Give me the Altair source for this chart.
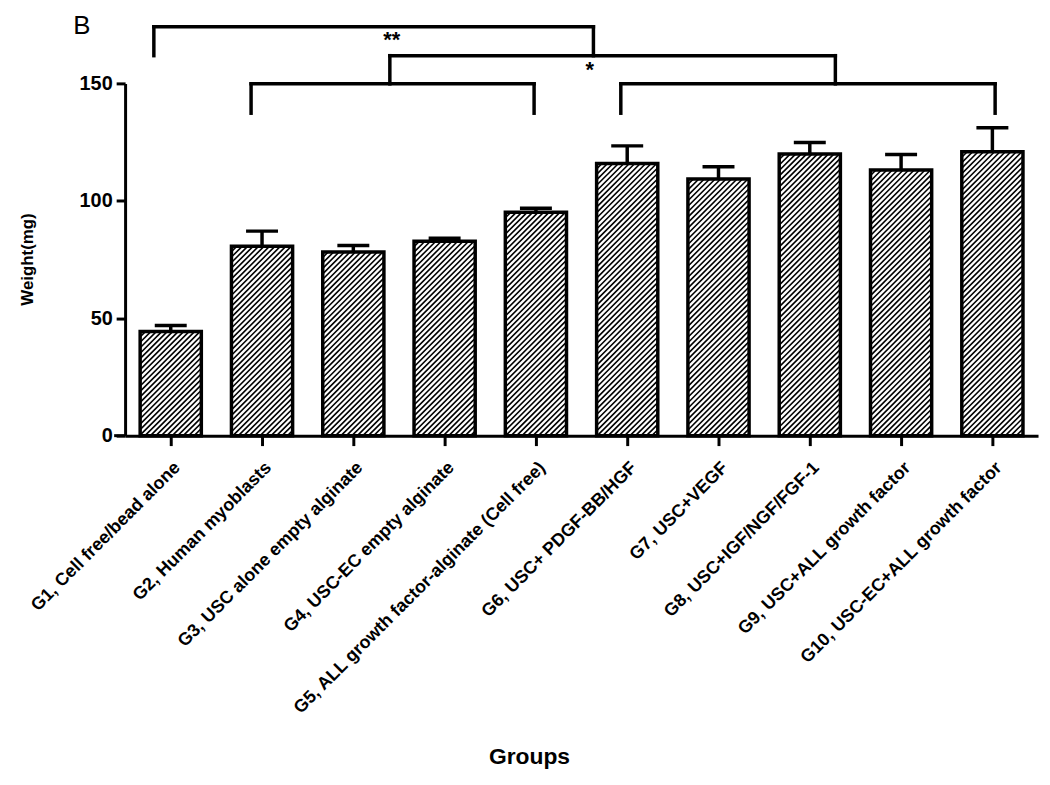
import json
import altair as alt
import pandas as pd

# ---------------- data ----------------
groups = [
    "G1, Cell free/bead alone",
    "G2, Human myoblasts",
    "G3, USC alone empty alginate",
    "G4, USC-EC empty alginate",
    "G5, ALL growth factor-alginate (Cell free)",
    "G6, USC+ PDGF-BB/HGF",
    "G7, USC+VEGF",
    "G8, USC+IGF/NGF/FGF-1",
    "G9, USC+ALL growth factor",
    "G10, USC-EC+ALL growth factor",
]
means = [44.4, 80.7, 78.2, 82.8, 95.1, 115.9, 109.3, 119.9, 113.1, 120.9]
sems = [2.5, 6.4, 2.8, 1.3, 1.7, 7.5, 5.2, 4.9, 6.6, 10.2]

# significance brackets: left x, right x (group units), top y, bottom y
br_left = [0.315, 2.90, 1.38, 5.43]
br_right = [5.13, 7.78, 4.48, 9.53]
br_top = [174.1, 161.8, 149.8, 149.8]
br_bottom = [161.8, 149.8, 137.3, 137.3]
star_text = ["**", "*"]
star_x = [2.92, 5.09]
star_y = [165.6, 152.6]
panel_letter = "B"

# ---------------- layout ----------------
W, H = 920, 355
YMAX = 150
kx = W / len(groups)
ky = H / YMAX
BAR_PAD = 0.165
CAP_HALF = 0.175

df = pd.DataFrame({"idx": range(len(groups)), "group": groups, "mean": means, "sem": sems})
df["x0"] = df["idx"] + BAR_PAD
df["x1"] = df["idx"] + 1 - BAR_PAD
df["xc"] = df["idx"] + 0.5
df["top"] = df["mean"] + df["sem"]
df["c0"] = df["xc"] - CAP_HALF
df["c1"] = df["xc"] + CAP_HALF
df["zero"] = 0

# hatch lines (///) clipped to each bar, computed in pixel space then mapped to data units
spacing = 5.5
rows = []
for _, r in df.iterrows():
    x0p = r["x0"] * kx
    wp = (r["x1"] - r["x0"]) * kx
    hp = r["mean"] * ky
    c = -hp
    while c < wp:
        lo = max(0.0, -c)
        hi = min(hp, wp - c)
        if hi > lo:
            rows.append({
                "hx0": (x0p + c + lo) / kx, "hy0": lo / ky,
                "hx1": (x0p + c + hi) / kx, "hy1": hi / ky,
            })
        c += spacing
hatch = pd.DataFrame(rows)

segs = []
for l, rr, t, b in zip(br_left, br_right, br_top, br_bottom):
    segs.append({"sx0": l, "sx1": rr, "sy0": t, "sy1": t})
    segs.append({"sx0": l, "sx1": l, "sy0": t, "sy1": b})
    segs.append({"sx0": rr, "sx1": rr, "sy0": t, "sy1": b})
seg_df = pd.DataFrame(segs)
stars = pd.DataFrame({"t": star_text, "x": star_x, "y": star_y})
letter_df = pd.DataFrame({"t": [panel_letter], "x": [-0.473], "y": [170.9]})
ext_df = pd.DataFrame({"a": [-0.12], "b": [0.0], "y": [0.0]})

FONT = "Liberation Sans"
xscale = alt.Scale(domain=[0, len(groups)], nice=False, zero=False)
yscale = alt.Scale(domain=[0, YMAX], nice=False)

label_expr = json.dumps(groups) + "[floor(datum.value)]"

x_axis = alt.Axis(
    values=[i + 0.5 for i in range(len(groups))],
    labelExpr=label_expr,
    title="Groups",
    labelAngle=-45,
    labelAlign="right",
    labelBaseline="top",
    labelPadding=13,
    labelFontSize=18,
    labelFontWeight="bold",
    labelFont=FONT,
    labelColor="black",
    labelOverlap=False,
    labelBound=False,
    labelLimit=1000,
    tickSize=10,
    tickWidth=3,
    tickColor="black",
    domainWidth=3,
    domainColor="black",
    grid=False,
    titleFont=FONT,
    titleFontSize=23,
    titleFontWeight="bold",
    titleColor="black",
    titleX=407,
    titleY=323,
    titleBaseline="middle",
    titleAlign="center",
)
y_axis = alt.Axis(
    values=[0, 50, 100, 150],
    title="Weight(mg)",
    labelFontSize=20,
    labelFontWeight="bold",
    labelFont=FONT,
    labelColor="black",
    labelPadding=4,
    tickSize=9,
    tickWidth=3,
    tickColor="black",
    domainWidth=3,
    domainColor="black",
    grid=False,
    titleFont=FONT,
    titleFontSize=17,
    titleFontWeight="bold",
    titleColor="black",
    titleX=-98,
    titleY=177,
    titleBaseline="middle",
    titleAlign="center",
)


def X(field):
    return alt.X(field, scale=xscale, axis=x_axis)


def Y(field):
    return alt.Y(field, scale=yscale, axis=y_axis)


hatch_layer = alt.Chart(hatch).mark_rule(color="black", strokeWidth=1.6).encode(
    x=X("hx0:Q"), x2="hx1:Q", y=Y("hy0:Q"), y2="hy1:Q",
)

bars = alt.Chart(df).mark_rect(fillOpacity=0, stroke="black", strokeWidth=3.5).encode(
    x=X("x0:Q"), x2="x1:Q", y=Y("mean:Q"), y2="zero:Q",
)

err_line = alt.Chart(df).mark_rule(color="black", strokeWidth=3.5).encode(
    x=X("xc:Q"), y=Y("mean:Q"), y2="top:Q",
)
err_cap = alt.Chart(df).mark_rule(color="black", strokeWidth=3.5).encode(
    x=X("c0:Q"), x2="c1:Q", y=Y("top:Q"),
)

axis_ext = alt.Chart(ext_df).mark_rule(color="black", strokeWidth=3).encode(
    x=X("a:Q"), x2="b:Q", y=Y("y:Q"),
)

brackets = alt.Chart(seg_df).mark_rule(color="black", strokeWidth=3.5, strokeCap="square").encode(
    x=X("sx0:Q"), x2="sx1:Q", y=Y("sy0:Q"), y2="sy1:Q",
)

star_layer = alt.Chart(stars).mark_text(
    font=FONT, fontSize=22, fontWeight="bold", color="black", align="center", baseline="alphabetic"
).encode(x=X("x:Q"), y=Y("y:Q"), text="t:N")

letter = alt.Chart(letter_df).mark_text(
    font=FONT, fontSize=26, color="black", align="center", baseline="alphabetic"
).encode(x=X("x:Q"), y=Y("y:Q"), text="t:N")

chart = alt.layer(
    hatch_layer, bars, err_line, err_cap, axis_ext, brackets, star_layer, letter
).properties(
    width=W,
    height=H,
    autosize=alt.AutoSizeParams(type="none"),
    padding={"left": 118, "top": 73, "right": 4, "bottom": 341},
    background="white",
).configure_view(stroke=None)

chart.save("out.html", embed_options={"renderer": "svg", "actions": False})
